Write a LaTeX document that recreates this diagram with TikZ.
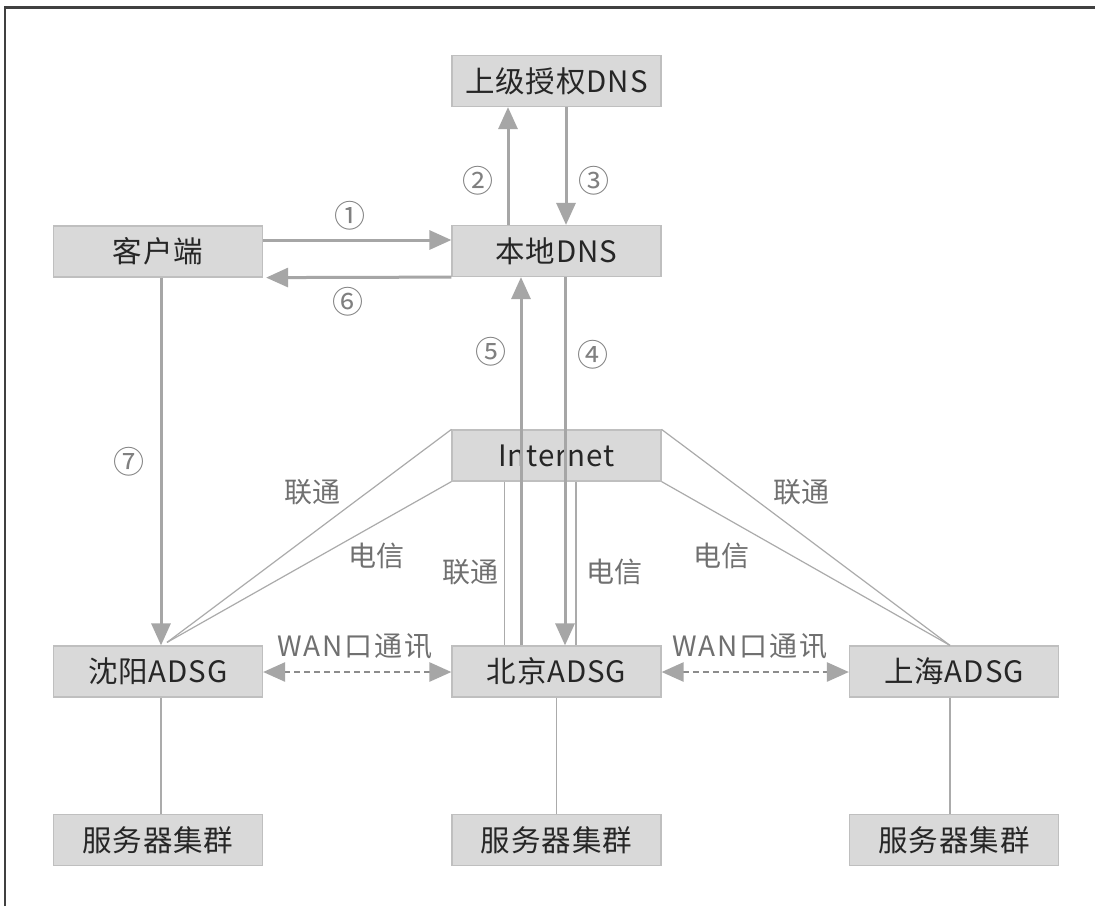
\documentclass[tikz,border=0pt]{standalone}
\usepackage{fontspec}
\setmainfont{Noto Sans CJK SC}
\usetikzlibrary{arrows.meta}
\definecolor{boxfill}{HTML}{D9D9D9}
\definecolor{boxline}{HTML}{BFBFBF}
\definecolor{arr}{HTML}{A6A6A6}
\definecolor{thin}{HTML}{ABABAB}
\definecolor{txt}{HTML}{262626}
\definecolor{lbl}{HTML}{707070}
\definecolor{num}{HTML}{808080}
\definecolor{frame}{HTML}{404040}
\definecolor{dash}{HTML}{8C8C8C}
\tikzset{
  box/.style={draw=boxline, fill=boxfill, line width=1.2pt, minimum width=209pt, minimum height=51pt, inner sep=0pt, text=txt, font=\fontsize{29.5}{29.5}\selectfont\addfontfeature{LetterSpace=3}},
  bigarrow/.style={draw=arr, line width=3pt, -{Triangle[length=22pt,width=19pt]}},
  thinline/.style={draw=thin, line width=1.2pt},
  dasharrow/.style={draw=dash, line width=2.6pt, dash pattern=on 6pt off 4pt, {Triangle[length=22pt,width=19pt,color=arr,fill=arr]}-{Triangle[length=22pt,width=19pt,color=arr,fill=arr]}},
  numlbl/.style={text=num, font=\fontsize{31}{31}\selectfont, inner sep=0pt},
  linklbl/.style={text=lbl, font=\fontsize{28}{28}\selectfont, inner sep=0pt},
  wanlbl/.style={text=lbl, font=\fontsize{28}{28}\selectfont\addfontfeature{LetterSpace=7}, inner sep=0pt},
}
\begin{document}
\begin{tikzpicture}[x=1pt,y=-1pt]
\useasboundingbox (0,0) rectangle (1095,906);
\fill[white] (0,0) rectangle (1095,906);
\draw[frame, line width=2.6pt] (5,906) -- (5,7.5) -- (1095,7.5);

% boxes
\node[box] (up) at (556.5,81) {上级授权DNS};
\node[box] (local) at (556.5,251) {本地DNS};
\node[box] (client) at (158,251.5) {客户端};
\node[box] (inet) at (556.5,455.5) {Internet};
\node[box] (sy) at (158,671.5) {沈阳ADSG};
\node[box] (bj) at (556.5,671.5) {北京ADSG};
\node[box] (sh) at (954,671.5) {上海ADSG};
\node[box] (s1) at (158,840) {服务器集群};
\node[box] (s2) at (556.5,840) {服务器集群};
\node[box] (s3) at (954,840) {服务器集群};

% convergence points
\coordinate (syc) at ([xshift=9pt,yshift=3pt]sy.north);
\coordinate (shc) at ([xshift=-4pt]sh.north);

% thin links
\draw[thinline] (inet.north west) -- (syc);
\draw[thinline] (inet.south west) -- (syc);
\draw[thinline] (inet.north east) -- (shc);
\draw[thinline] (inet.south east) -- (shc);
\draw[thinline] ([xshift=-52pt]inet.south) -- ([xshift=-52pt]bj.north);
\draw[thinline] ([xshift=19.5pt]inet.south) -- ([xshift=19.5pt]bj.north);
\draw[thinline] ([xshift=3pt]sy.south) -- ([xshift=3pt]s1.north);
\draw[thinline] (bj.south) -- (s2.north);
\draw[thinline] ([xshift=-4pt]sh.south) -- ([xshift=-4pt]s3.north);

% big arrows
\draw[bigarrow] ([yshift=11.5pt]client.east) -- ([yshift=11pt]local.west);
\draw[bigarrow] (local.south west) -- ([xshift=3pt]client.south east);
\draw[bigarrow] ([xshift=-48.5pt]local.north) -- ([xshift=-48.5pt]up.south);
\draw[bigarrow] ([xshift=9.5pt]up.south) -- ([xshift=9.5pt]local.north);
\draw[bigarrow] ([xshift=-35.5pt]bj.north) -- ([xshift=-35.5pt]local.south);
\draw[bigarrow] ([xshift=8.5pt]local.south) -- ([xshift=8.5pt]bj.north);
\draw[bigarrow] ([xshift=3pt]client.south) -- ([xshift=3pt]sy.north);

% dashed WAN links
\draw[dasharrow] ([yshift=-0.5pt]sy.east) -- ([yshift=-0.5pt]bj.west);
\draw[dasharrow] ([yshift=-0.5pt]bj.east) -- ([yshift=-0.5pt]sh.west);

% number labels
\node[numlbl] (n1) at (350,216) {①};
\node[numlbl] (n2) at (478,181) {②};
\node[numlbl] (n3) at (594,181) {③};
\node[numlbl] (n4) at (593,355) {④};
\node[numlbl] (n5) at (491,352) {⑤};
\node[numlbl] (n6) at (348,302) {⑥};
\node[numlbl] (n7) at (129,462) {⑦};

% link labels
\node[linklbl] (l1) at (312,492) {联通};
\node[linklbl] (l2) at (376,556) {电信};
\node[linklbl] (l3) at (470,572) {联通};
\node[linklbl] (l4) at (614,572) {电信};
\node[linklbl] (l5) at (721,556) {电信};
\node[linklbl] (l6) at (801,492) {联通};
\node[wanlbl] (w1) at (355,646) {WAN口通讯};
\node[wanlbl] (w2) at (750,646) {WAN口通讯};
\end{tikzpicture}
\end{document}
